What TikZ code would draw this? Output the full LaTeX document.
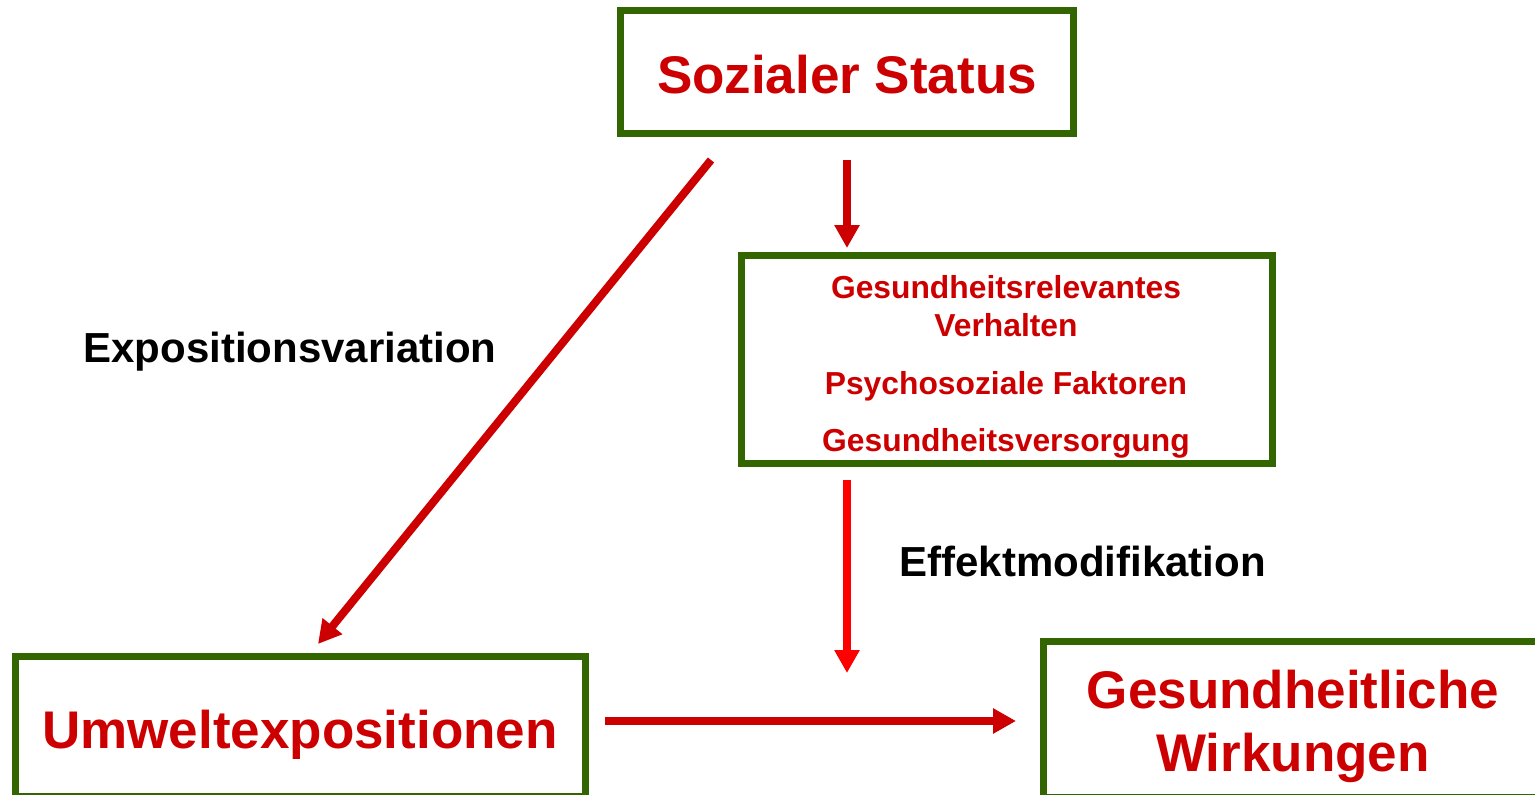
\documentclass[tikz,border=0pt]{standalone}
\usepackage{fontspec}
\setmainfont{Liberation Sans}
\usetikzlibrary{arrows.meta,calc}
\definecolor{boxgreen}{HTML}{336600}
\definecolor{darkred}{HTML}{CC0000}
\definecolor{brightred}{HTML}{FF0000}
\begin{document}
\begin{tikzpicture}[x=1pt,y=-1pt,
  box/.style={draw=boxgreen,line width=7pt,rectangle,inner sep=0pt,outer sep=3.5pt},
  bigtxt/.style={anchor=base,inner sep=0pt,text=darkred,font=\fontsize{53}{60}\selectfont\bfseries},
  smalltxt/.style={anchor=base,inner sep=0pt,text=darkred,font=\fontsize{31.8}{38}\selectfont\bfseries},
  lbltxt/.style={anchor=base,inner sep=0pt,text=black,font=\fontsize{42}{48}\selectfont\bfseries},
  arr/.style={line width=8pt,-{Triangle[width=24pt,length=23pt]}},
]
\useasboundingbox (0,0) rectangle (1535,795);
% boxes
\node[box,minimum width=453pt,minimum height=123pt] (box1) at (847,72) {};
\node[box,minimum width=531pt,minimum height=208pt] (box2) at (1007,359.5) {};
\node[box,minimum width=570pt,minimum height=140pt] (box3) at (300.5,726.5) {};
\node[box,minimum width=506.5pt,minimum height=155.5pt] (box4) at (1296.75,719.25) {};
% texts
\node[bigtxt] (t1) at (847,93) {Sozialer Status};
\node[smalltxt] (t2a) at (1006,298) {Gesundheitsrelevantes};
\node[smalltxt] (t2b) at (1006,336) {Verhalten};
\node[smalltxt] (t2c) at (1006,394) {Psychosoziale Faktoren};
\node[smalltxt] (t2d) at (1006,451) {Gesundheitsversorgung};
\node[bigtxt] (t3) at (300,748) {Umweltexpositionen};
\node[bigtxt] (t4a) at (1293,708) {Gesundheitliche};
\node[bigtxt] (t4b) at (1293,771) {Wirkungen};
\node[lbltxt] (l1) at (290,362) {Expositionsvariation};
\node[lbltxt] (l2) at (1082.5,576) {Effektmodifikation};
% connectors
\coordinate (mod) at (847,673);
\draw[arr,darkred] ($(box1.south)+(0,23)$) -- ($(box1.south |- box2.north)+(0,-4)$);
\draw[arr,darkred] ($(box1.south)+(-136,23)$) -- ($(box3.north)+(17.5,-9)$);
\draw[arr,brightred] ($(box2.south)+(-160,13)$) -- (mod);
\draw[arr,darkred] ($(box3.east)+(16,-5.5)$) -- ($(box4.west)+(-24,1.75)$);
\end{tikzpicture}
\end{document}
